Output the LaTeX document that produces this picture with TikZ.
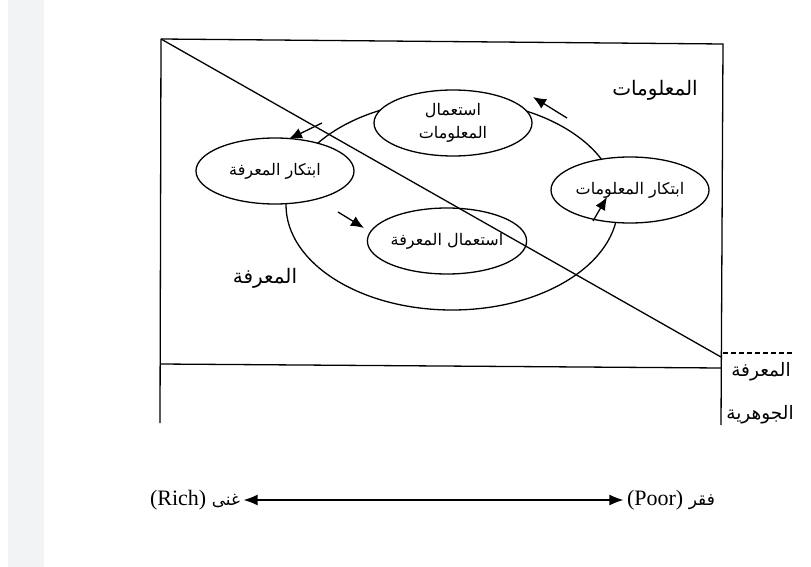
\documentclass[tikz,border=0pt]{standalone}
\usepackage{fontspec}
\setmainfont{Liberation Serif}
\newfontfamily\arabicfont[Script=Arabic]{DejaVu Sans}
\TeXXeTstate=1
\usetikzlibrary{shapes.geometric,arrows.meta}
\definecolor{stripgray}{RGB}{241,243,245}
\tikzset{
  oval/.style={draw, ellipse, fill=white, minimum width=158pt, minimum height=66pt, inner sep=0pt, align=center, font=\arabicfont\fontsize{16}{23}\selectfont},
  lbl/.style={font=\arabicfont\fontsize{20}{22}\selectfont},
  flow/.style={-{Latex[length=13pt,width=11pt]}},
}

\begin{document}
\begin{tikzpicture}[x=1pt,y=-1pt,line width=1.3pt]
        \useasboundingbox (0,0) rectangle (811,567);
        \fill[stripgray] (8,0) rectangle (44,567);

        \coordinate (TL) at (161,39);
        \coordinate (TR) at (723,44);
        \coordinate (BR) at (721,425);
        \coordinate (BL) at (160,423);
        \coordinate (HL) at (160,364);
        \coordinate (HR) at (721,368);
        \coordinate (D) at (721,357);
        \coordinate (DS) at (723,353);
        \coordinate (DE) at (792,353);

        \draw (TL) -- (TR) -- (BR);
        \draw (TL) -- (BL);
        \draw (HL) -- (HR);
        \draw[dash pattern=on 5pt off 3pt] (DS) -- (DE);

        \node[draw, ellipse, minimum width=332pt, minimum height=210pt] (ring) at (452,205) {};
        \node[oval] (useInfo) at (453,123) {\beginR استعمال\endR\\\beginR المعلومات\endR};
        \node[oval] (makeKnow) at (275,171) {\beginR ابتكار المعرفة\endR};
        \node[oval] (useKnow) at (447,241) {\beginR استعمال المعرفة\endR};
        \node[oval] (makeInfo) at (630,190) {\beginR ابتكار المعلومات\endR};

        \draw (TL) -- (D);

        \node[lbl] (info) at (655,90) {\beginR المعلومات\endR};
        \node[lbl] (know) at (265,278) {\beginR المعرفة\endR};
        \node[lbl, font=\arabicfont\fontsize{18.5}{20}\selectfont] (core1) at (761,372) {\beginR المعرفة\endR};
        \node[lbl, font=\arabicfont\fontsize{18.5}{20}\selectfont] (core2) at (760,415) {\beginR الجوهرية\endR};

        \coordinate (a1) at (322,123);
        \coordinate (b1) at (289,139);
        \coordinate (a2) at (567,118);
        \coordinate (b2) at (533,97);
        \coordinate (a3) at (338,212);
        \coordinate (b3) at (364,228);
        \coordinate (a4) at (593,221);
        \coordinate (b4) at (607,197);
        \draw[flow] (a1) -- (b1);
        \draw[flow] (a2) -- (b2);
        \draw[flow] (a3) -- (b3);
        \draw[flow] (a4) -- (b4);

        \node[font=\fontsize{22}{24}\selectfont, inner sep=3pt] (rich) at (195,500) {(Rich) {\arabicfont\fontsize{17}{19}\selectfont\beginR غنى\endR}};
        \node[font=\fontsize{22}{24}\selectfont, inner sep=3pt] (poor) at (671,500) {(Poor) {\arabicfont\fontsize{17}{19}\selectfont\beginR فقر\endR}};
        \draw[{Latex[length=14pt,width=11pt]}-{Latex[length=14pt,width=11pt]}] (rich) -- (poor);
    \end{tikzpicture}
\end{document}
